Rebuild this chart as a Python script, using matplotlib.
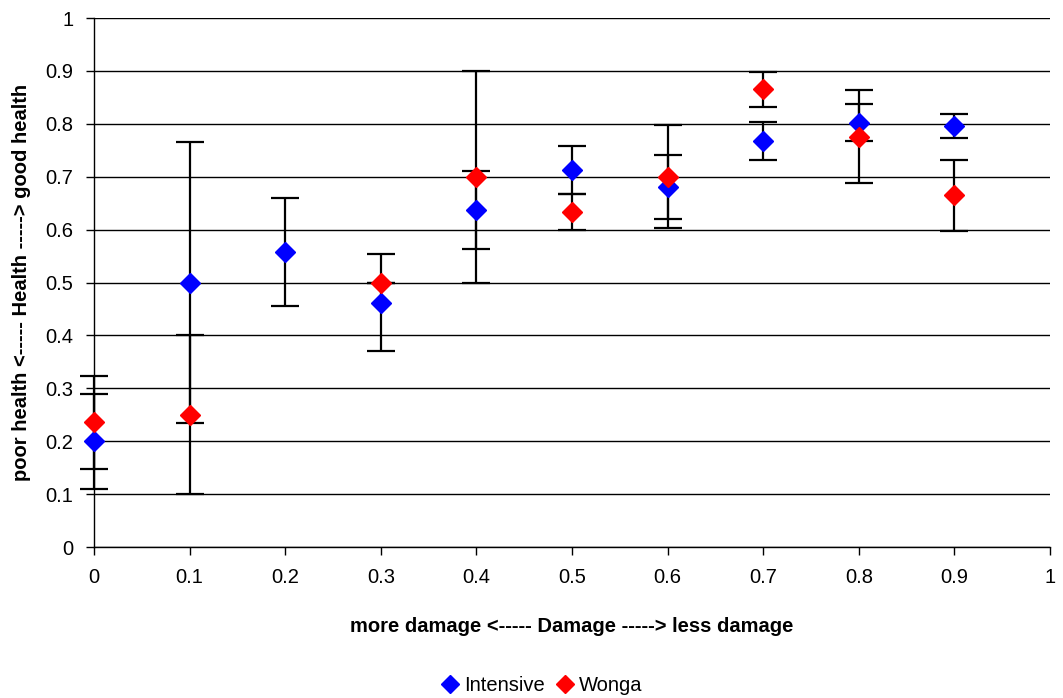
import numpy as np
import matplotlib
matplotlib.use("Agg")
import matplotlib.pyplot as plt
from matplotlib.ticker import FuncFormatter

damage = [0.0, 0.1, 0.2, 0.3, 0.4, 0.5, 0.6, 0.7, 0.8, 0.9]

intensive_health = [0.200, 0.500, 0.558, 0.462, 0.637, 0.713, 0.681, 0.768, 0.802, 0.796]
intensive_err = [0.090, 0.265, 0.102, 0.091, 0.073, 0.045, 0.060, 0.036, 0.035, 0.023]

wonga_damage = [0.0, 0.1, 0.3, 0.4, 0.5, 0.6, 0.7, 0.8, 0.9]
wonga_health = [0.236, 0.250, 0.500, 0.700, 0.634, 0.700, 0.865, 0.776, 0.665]
wonga_err = [0.088, 0.150, 0.0, 0.200, 0.034, 0.097, 0.033, 0.087, 0.067]

plt.rcParams['font.family'] = ['Liberation Sans', 'DejaVu Sans']

fig = plt.figure(figsize=(10.63, 6.98), dpi=100)
ax = fig.add_axes([0.0884, 0.2163, 0.8994, 0.7579])

for xs, ys, es in [(damage, intensive_health, intensive_err),
                   (wonga_damage, wonga_health, wonga_err)]:
    eb = ax.errorbar(xs, ys, yerr=es, fmt='none', ecolor='black',
                     elinewidth=1.6, capsize=10, capthick=1.6, zorder=2)
    for art in eb.lines[1] + eb.lines[2]:
        art.set_clip_on(False)

ax.plot(damage, intensive_health, linestyle='none', marker='D', markersize=10,
        color='#0000ff', label='Intensive', zorder=3, clip_on=False)
ax.plot(wonga_damage, wonga_health, linestyle='none', marker='D', markersize=10,
        color='#ff0000', label='Wonga', zorder=4, clip_on=False)

ax.set_xlim(0, 1)
ax.set_ylim(0, 1)
ax.set_xticks(np.arange(0, 1.01, 0.1))
ax.set_yticks(np.arange(0, 1.01, 0.1))
fmt = FuncFormatter(lambda v, p: '%g' % round(v, 1))
ax.xaxis.set_major_formatter(fmt)
ax.yaxis.set_major_formatter(fmt)
ax.tick_params(labelsize=14.5, direction='out', length=6, width=1, colors='black')
ax.tick_params(axis='x', pad=9)
ax.tick_params(axis='y', pad=9)

ax.yaxis.grid(True, color='black', linewidth=1)
ax.set_axisbelow(True)
for side in ['top', 'right']:
    ax.spines[side].set_visible(False)
for side in ['left', 'bottom']:
    ax.spines[side].set_linewidth(1)

ax.set_xlabel('more damage <----- Damage -----> less damage',
              fontsize=14.5, fontweight='bold', labelpad=22)
ax.set_ylabel('poor health <----- Health -----> good health',
              fontsize=14.5, fontweight='bold', labelpad=10)

fig.legend(loc='center', bbox_to_anchor=(0.508, 0.018), ncol=2, frameon=False,
           fontsize=14.5, handletextpad=0.1, columnspacing=0.4, handlelength=1.2,
           markerscale=0.9)

plt.savefig('out.png', dpi=100)
